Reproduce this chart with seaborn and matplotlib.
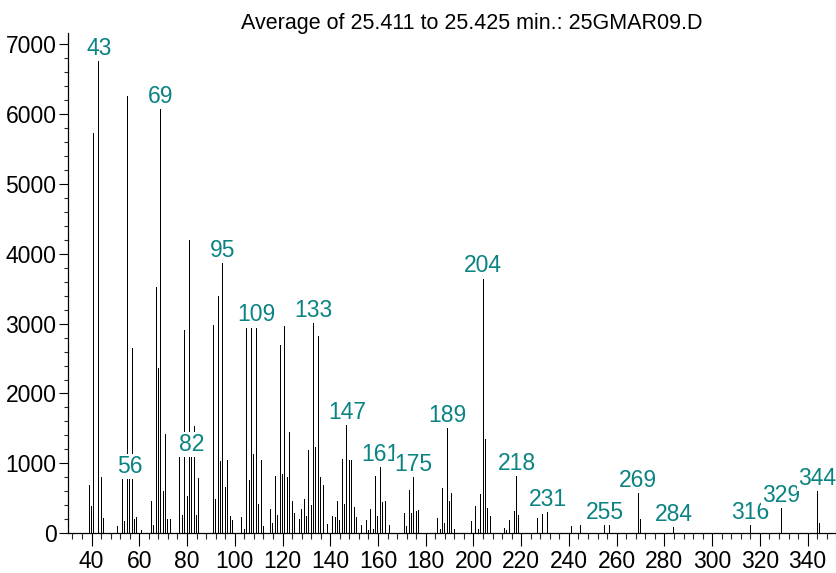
import matplotlib
matplotlib.use("Agg")
import matplotlib.pyplot as plt
from matplotlib.ticker import MultipleLocator
import seaborn as sns
import pandas as pd

# m/z values and abundances of the averaged scan
mz = [39, 40, 41, 43, 44, 45, 51, 53, 54, 55, 56, 57, 58, 59, 61,
      65, 66, 67, 68, 69, 70, 71, 72, 73, 77, 78, 79, 80, 81, 82, 83, 84, 85,
      91, 92, 93, 94, 95, 96, 97, 98, 99, 103, 104, 105, 106, 107, 108, 109,
      110, 111, 112, 115, 116, 117, 118, 119, 120, 121, 122, 123, 124, 125,
      127, 128, 129, 130, 131, 132, 133, 134, 135, 136, 137, 139,
      141, 142, 143, 144, 145, 146, 147, 148, 149, 150, 151, 153,
      155, 156, 157, 158, 159, 160, 161, 162, 163, 165,
      171, 172, 173, 174, 175, 176, 177, 185, 186, 187, 188, 189, 190, 191, 192,
      199, 201, 202, 203, 204, 205, 206, 207, 213, 214, 215, 217, 218, 219,
      227, 229, 231, 241, 245, 255, 257, 269, 270, 284, 316, 329, 344, 345]
abundance = [690, 390, 5720, 6770, 805, 215, 105, 790, 180, 6260, 790, 2650, 210, 230, 45,
             465, 120, 3525, 2365, 6090, 600, 1415, 200, 210, 1280, 260, 2915, 540, 4190, 1110, 1540, 255, 785,
             2975, 495, 3390, 1030, 3880, 656, 1054, 249, 192, 240, 57, 2960, 766, 2960, 1135, 2960,
             421, 1054, 105, 345, 144, 824, 259, 2700, 853, 2970, 805, 1456, 455, 287,
             201, 345, 488, 249, 1188, 402, 3018, 1231, 2817, 810, 695, 130,
             248, 229, 463, 191, 1059, 415, 1565, 1049, 1049, 382, 229, 114,
             191, 48, 348, 62, 816, 253, 959, 444, 463, 119,
             291, 110, 615, 291, 816, 320, 334, 215, 67, 644, 148, 1522, 463, 577, 62,
             176, 386, 67, 568, 3660, 1350, 358, 248, 72, 48, 191, 320, 835, 267,
             215, 272, 320, 105, 114, 134, 134, 587, 200, 105, 134, 377, 620, 143]

# ions annotated with their m/z
labelled_ions = [43, 56, 69, 82, 95, 109, 133, 147, 161, 175, 189, 204,
                 218, 231, 255, 269, 284, 316, 329, 344]

title_text = "Average of 25.411 to 25.425 min.: 25GMAR09.D"

spectrum = pd.DataFrame({"mz": mz, "abundance": abundance})

sns.set_style("ticks")
plt.rcParams["font.family"] = ["Liberation Sans Narrow", "Liberation Sans", "DejaVu Sans"]

W, H = 837, 573
fig = plt.figure(figsize=(W / 100, H / 100), dpi=100)
ax_left, ax_right, ax_bottom, ax_top = 67.7, 837.0, 533.3, 33.3
ax = fig.add_axes([ax_left / W, (H - ax_bottom) / H,
                   (ax_right - ax_left) / W, (ax_bottom - ax_top) / H])

sns.histplot(data=spectrum, x="mz", weights="abundance", discrete=True,
             shrink=0.42, color="black", alpha=1, linewidth=0, ax=ax)

ax.set_xlim(30, 352.3)
ax.set_ylim(0, 7153)
ax.set_xlabel("")
ax.set_ylabel("")

ax.xaxis.set_major_locator(MultipleLocator(20))
ax.xaxis.set_minor_locator(MultipleLocator(4))
ax.yaxis.set_major_locator(MultipleLocator(1000))
ax.yaxis.set_minor_locator(MultipleLocator(200))

ax.tick_params(axis="x", which="major", length=9.4, width=0.8, pad=2.5,
               labelsize=16.5, colors="black", direction="out")
ax.tick_params(axis="x", which="minor", length=4.3, width=0.8, direction="out")
ax.tick_params(axis="y", which="major", length=6.5, width=0.8, pad=1.5,
               labelsize=16.5, colors="black", direction="out")
ax.tick_params(axis="y", which="minor", length=2.9, width=0.8, direction="out")

for side in ("top", "right"):
    ax.spines[side].set_visible(False)
for side in ("left", "bottom"):
    ax.spines[side].set_linewidth(0.9)
    ax.spines[side].set_color("black")

lookup = dict(zip(mz, abundance))
for ion in labelled_ions:
    ax.annotate(str(ion), xy=(ion, lookup[ion]), xytext=(0, 3.6),
                textcoords="offset points", ha="center", va="baseline",
                color="#0b8383", fontsize=16.5, zorder=5,
                bbox=dict(boxstyle="square,pad=0.05", fc="white", ec="none"))

fig.text(471.5 / W, 1 - 29.5 / H, title_text, ha="center", va="baseline",
         fontsize=15.5, color="black")

fig.savefig("out.png", dpi=100)
